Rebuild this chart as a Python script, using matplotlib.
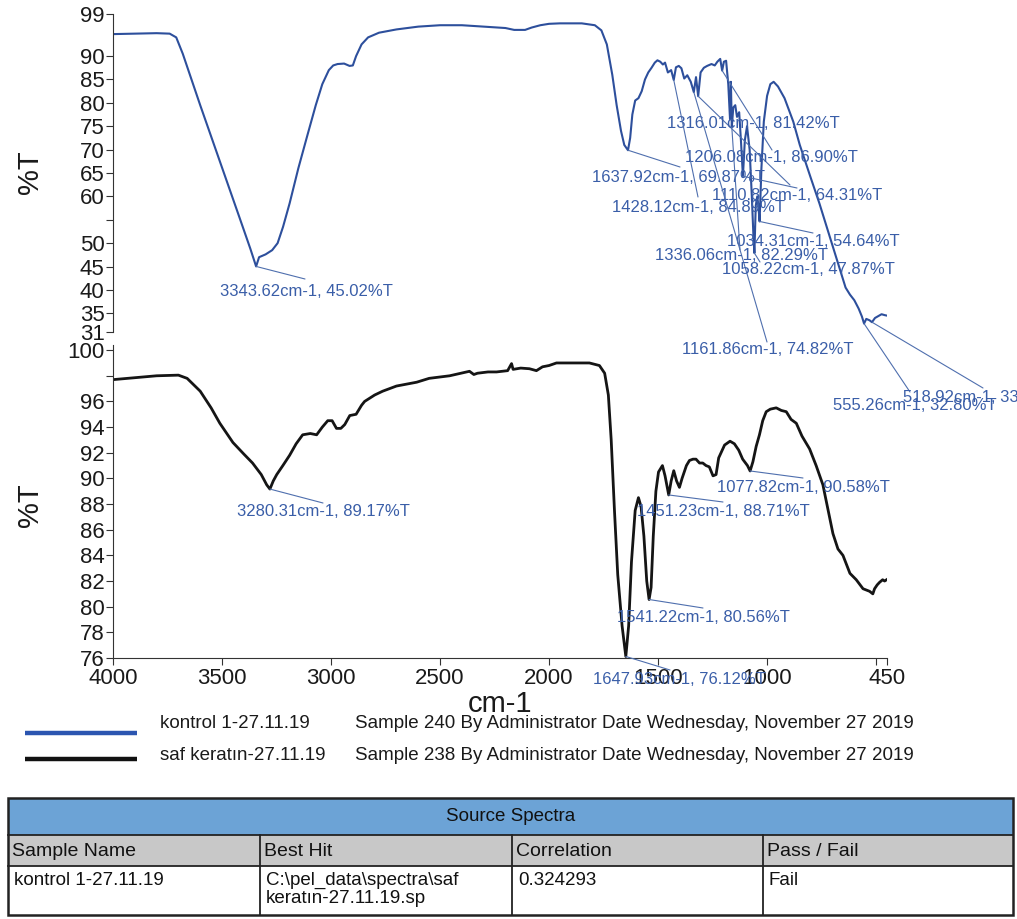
import matplotlib
matplotlib.use('Agg')
import matplotlib.pyplot as plt
from matplotlib import font_manager
from matplotlib.patches import Rectangle

# ---------------- data ----------------
top_wn = [4000, 3900, 3800, 3740, 3710, 3680, 3600, 3500, 3420, 3370, 3343.62, 3330, 3300, 3270,
          3245, 3220, 3190, 3150, 3110, 3070, 3040, 3010, 2990, 2970, 2940, 2915, 2900, 2885, 2860,
          2830, 2780, 2700, 2600, 2500, 2400, 2300, 2200, 2160, 2110, 2080, 2040, 2000, 1950, 1850,
          1790, 1760, 1735, 1710, 1690, 1670, 1655, 1637.92, 1628, 1618, 1605, 1590, 1575, 1560,
          1545, 1530, 1515, 1503, 1490, 1478, 1468, 1455, 1440, 1428.12, 1418, 1405, 1393, 1380,
          1366, 1350, 1336.06, 1326, 1316.01, 1305, 1290, 1275, 1255, 1240, 1228, 1215, 1206.08,
          1198, 1188, 1178, 1170, 1166, 1161.86, 1155, 1146, 1138, 1128, 1120, 1110.82, 1102, 1092,
          1080, 1070, 1063, 1058.22, 1052, 1045, 1040, 1034.31, 1026, 1015, 1000, 985, 970, 950,
          920, 880, 850, 800, 760, 720, 700, 660, 640, 620, 600, 580, 565, 555.26, 545, 530, 518.92,
          505, 490, 475, 460, 450]
top_T = [94.7, 94.8, 94.9, 94.8, 94.0, 90.5, 79.5, 66.2, 55.5, 48.8, 45.02, 47.0, 47.6, 48.5,
         50.0, 53.5, 58.5, 66.0, 72.8, 79.5, 84.0, 87.0, 88.0, 88.3, 88.4, 87.9, 88.0, 90.0, 92.5,
         94.0, 95.0, 95.7, 96.3, 96.6, 96.6, 96.3, 96.0, 95.6, 95.6, 96.1, 96.6, 96.9, 97.0, 97.0,
         96.6, 95.5, 92.5, 86.0, 79.5, 74.0, 71.0, 69.87, 72.5, 77.5, 80.5, 81.0, 82.5, 85.0,
         86.5, 87.5, 88.6, 89.1, 88.8, 88.2, 88.6, 86.5, 87.0, 84.89, 87.6, 87.9, 87.4, 85.2,
         85.9, 84.5, 82.29, 85.5, 81.42, 86.5, 87.5, 87.9, 88.3, 88.0, 88.8, 89.4, 86.90,
         88.8, 89.0, 84.0, 76.5, 84.5, 74.82, 79.0, 79.5, 77.0, 78.0, 72.0, 64.31, 72.0, 75.0,
         70.0, 60.0, 52.0, 47.87, 58.0, 60.0, 58.0, 54.64, 66.0, 76.0, 81.5, 84.0, 84.5, 83.5,
         81.0, 76.0, 71.0, 64.0, 58.5, 52.5, 49.5, 43.5, 40.5, 39.0, 37.8, 36.0, 34.3, 32.80, 33.8, 33.5, 33.1,
         34.0, 34.4, 34.8, 34.6, 34.5]

bot_wn = [4000, 3900, 3800, 3700, 3660, 3600, 3550, 3510, 3450, 3400, 3360, 3320, 3295, 3280.31,
          3265, 3249, 3221, 3190, 3160, 3130, 3095, 3066, 3040, 3015, 2995, 2975, 2955, 2937, 2914,
          2885, 2860, 2846, 2800, 2763, 2700, 2607, 2550, 2456, 2365, 2345, 2328, 2280, 2241, 2190,
          2172, 2165, 2130, 2090, 2058, 2030, 2000, 1966, 1900, 1815, 1769, 1745, 1728, 1715, 1700,
          1685, 1665, 1647.93, 1635, 1622, 1605, 1590, 1578, 1565, 1552, 1541.22, 1532, 1522, 1510,
          1498, 1480, 1468, 1451.23, 1440, 1428, 1415, 1402, 1390, 1370, 1356, 1340, 1326, 1310,
          1295, 1280, 1265, 1248, 1234, 1222, 1211, 1195, 1170, 1150, 1130, 1112, 1090, 1077.82,
          1065, 1050, 1035, 1020, 1004, 985, 958, 935, 912, 890, 866, 840, 805, 775, 744, 720, 698,
          675, 652, 620, 591, 560, 530, 515, 507, 495, 484, 470, 461, 452]
bot_T = [97.7, 97.85, 98.0, 98.05, 97.8, 96.8, 95.5, 94.3, 92.8, 91.9, 91.2, 90.3, 89.5, 89.17,
         89.8, 90.3, 91.0, 91.8, 92.7, 93.4, 93.5, 93.4, 94.0, 94.5, 94.5, 93.9, 93.9, 94.2, 94.9,
         95.0, 95.7, 96.0, 96.5, 96.8, 97.2, 97.5, 97.8, 98.0, 98.35, 98.1, 98.2, 98.3, 98.3, 98.4,
         98.95, 98.5, 98.6, 98.55, 98.4, 98.7, 98.8, 99.0, 99.0, 99.0, 98.8, 98.2, 96.5, 93.0, 87.5,
         82.5, 78.5, 76.12, 78.5, 83.5, 87.5, 88.5, 87.8, 85.5, 82.0, 80.56, 81.5, 85.5, 89.0,
         90.5, 91.0, 90.2, 88.71, 89.8, 90.6, 89.8, 89.3, 90.0, 91.0, 91.4, 91.5, 91.5, 91.2,
         91.2, 91.0, 90.9, 90.2, 90.3, 91.6, 92.0, 92.6, 92.9, 92.7, 92.2, 91.5, 91.0, 90.58,
         91.3, 92.5, 93.4, 94.5, 95.2, 95.4, 95.5, 95.3, 95.2, 94.6, 94.3, 93.3, 92.3, 91.0, 89.5,
         87.5, 85.7, 84.5, 84.0, 82.6, 82.1, 81.4, 81.2, 81.0, 81.4, 81.7, 81.9, 82.1, 82.0, 82.1]

top_peak_wn = [3343.62, 1637.92, 1316.01, 1206.08, 1110.82, 1428.12, 1034.31, 1336.06, 1058.22,
               1161.86, 555.26, 518.92]
top_peak_T = [45.02, 69.87, 81.42, 86.90, 64.31, 84.89, 54.64, 82.29, 47.87, 74.82, 32.80, 33.10]
bot_peak_wn = [3280.31, 1451.23, 1077.82, 1541.22, 1647.93]
bot_peak_T = [89.17, 88.71, 90.58, 80.56, 76.12]

top_yticks = [31, 35, 40, 45, 50, 55, 60, 65, 70, 75, 80, 85, 90, 99]
top_ylabels = ['31', '35', '40', '45', '50', '', '60', '65', '70', '75', '80', '85', '90', '99']
bot_yticks = [76, 78, 80, 82, 84, 86, 88, 90, 92, 94, 96, 98, 100]
bot_ylabels = ['76', '78', '80', '82', '84', '86', '88', '90', '92', '94', '96', '', '100']
xticks = [4000, 3500, 3000, 2500, 2000, 1500, 1000, 500, 450]
xlabels = ['4000', '3500', '3000', '2500', '2000', '1500', '1000', '', '450']

legend_names = ['kontrol 1-27.11.19', 'saf keratın-27.11.19']
legend_info = ['Sample 240 By Administrator Date Wednesday, November 27 2019',
               'Sample 238 By Administrator Date Wednesday, November 27 2019']

table_title = 'Source Spectra'
table_cols = ['Sample Name', 'Best Hit', 'Correlation', 'Pass / Fail']
table_row = ['kontrol 1-27.11.19', 'C:\\pel_data\\spectra\\saf\nkeratın-27.11.19.sp', '0.324293', 'Fail']

# ---------------- style ----------------
names = {f.name for f in font_manager.fontManager.ttflist}
NARROW = 'Liberation Sans Narrow' if 'Liberation Sans Narrow' in names else 'Liberation Sans'
plt.rcParams['font.family'] = ['Liberation Sans', 'DejaVu Sans']

BLUE = '#2d4f9c'
ANN = '#3a5ea8'
LEAD = '#4f6fae'
BLACK = '#151515'

W, H = 1017, 919
fig = plt.figure(figsize=(W / 100, H / 100), dpi=100)

ax1 = fig.add_axes([113 / W, 1 - 332 / H, 774 / W, 318 / H])
ax2 = fig.add_axes([113 / W, 1 - 658 / H, 774 / W, 313 / H])

ax1.plot(top_wn, top_T, color=BLUE, lw=1.5)
ax2.plot(bot_wn, bot_T, color=BLACK, lw=2.0)

for ax in (ax1, ax2):
    ax.set_xlim(4000, 450)
    ax.spines['top'].set_visible(False)
    ax.spines['right'].set_visible(False)
    ax.spines['left'].set_color('#333333')
    ax.spines['bottom'].set_color('#333333')
    ax.tick_params(axis='y', direction='out', length=5, labelsize=16, pad=1, colors='#333333',
                   labelcolor='#1a1a1a')
ax1.spines['bottom'].set_visible(False)
ax1.set_ylim(31, 99)
ax1.set_xticks([])
ax1.set_yticks(top_yticks)
ax1.set_yticklabels(top_ylabels)

ax2.set_ylim(76, 100.4)
ax2.set_yticks(bot_yticks)
ax2.set_yticklabels(bot_ylabels)
ax2.set_xticks(xticks)
ax2.set_xticklabels(xlabels)
ax2.tick_params(axis='x', direction='out', length=5, labelsize=16, pad=2, colors='#333333',
                labelcolor='#1a1a1a')

# overlay in reference pixel coordinates
ov = fig.add_axes([0, 0, 1, 1])
ov.set_xlim(0, W)
ov.set_ylim(H, 0)
ov.axis('off')

ov.text(30, 172, '%T', rotation=90, fontsize=21, ha='center', va='center', color='#1a1a1a')
ov.text(30, 505, '%T', rotation=90, fontsize=21, ha='center', va='center', color='#1a1a1a')
ov.text(500, 704, 'cm-1', fontsize=21, ha='center', va='center', color='#1a1a1a')

top_text_pos = [(220, 292), (592, 177), (667, 123), (685, 157), (712, 195), (612, 208),
                (727, 241), (655, 255), (722, 270), (682, 350), (833, 405), (903, 398)]
top_line_end = [(305, 279), (680, 167), (790, 185), (772, 150), (797, 188), (698, 197),
                (813, 233), (767, 342), (760, 262), (740, 250), (910, 392), (983, 388)]
bot_text_pos = [(237, 512), (637, 511), (717, 487), (617, 617), (593, 680)]
bot_line_end = [(323, 503), (723, 502), (803, 478), (703, 608), (670, 670)]


def annotate(ax, wns, ts, tpos, lend):
    for wn, t, (tx, ty), (ex, ey) in zip(wns, ts, tpos, lend):
        ov.annotate('', xy=(wn, t), xycoords=ax.transData, xytext=(ex, ey), textcoords='data',
                    arrowprops=dict(arrowstyle='-', color=LEAD, lw=0.8, shrinkA=0, shrinkB=0),
                    annotation_clip=False)
        ov.text(tx, ty, f'{wn:.2f}cm-1, {t:.2f}%T', fontsize=12, color=ANN,
                ha='left', va='center')


annotate(ax1, top_peak_wn, top_peak_T, top_text_pos, top_line_end)
annotate(ax2, bot_peak_wn, bot_peak_T, bot_text_pos, bot_line_end)

# legend
for (y_line, y_txt, col, nm, info) in [(733, 724, '#2b55b0', legend_names[0], legend_info[0]),
                                       (759, 756, '#111111', legend_names[1], legend_info[1])]:
    ov.plot([25, 137], [y_line, y_line], color=col, lw=3.2, solid_capstyle='butt')
    ov.text(160, y_txt, nm, fontsize=13.5, family=NARROW, ha='left', va='center', color='#1a1a1a')
    ov.text(355, y_txt, info, fontsize=13.5, family=NARROW, ha='left', va='center', color='#1a1a1a')

# table
L, R = 8, 1013
y0, y1, y2, y3 = 798, 835, 866, 915
colx = [8, 260, 512, 763, 1013]
ov.add_patch(Rectangle((L, y0), R - L, y1 - y0, facecolor='#6ca3d6', edgecolor='none'))
ov.add_patch(Rectangle((L, y1), R - L, y2 - y1, facecolor='#c8c8c8', edgecolor='none'))
ov.add_patch(Rectangle((L, y0), R - L, y3 - y0, facecolor='none', edgecolor='#222222', lw=1.8))
for yy in (y1, y2):
    ov.plot([L, R], [yy, yy], color='#222222', lw=1.3)
for xx in colx[1:-1]:
    ov.plot([xx, xx], [y1, y3], color='#222222', lw=1.3)
ov.text((L + R) / 2, (y0 + y1) / 2, table_title, fontsize=13.5, family=NARROW, ha='center',
        va='center', color='#111111')
for i, c in enumerate(table_cols):
    ov.text(colx[i] + 4, (y1 + y2) / 2 + 1, c, fontsize=14, family=NARROW, ha='left',
            va='center', color='#111111')
for i, c in enumerate(table_row):
    ov.text(colx[i] + 6, y2 + 6, c, fontsize=13.5, family=NARROW, ha='left', va='top',
            color='#111111', linespacing=1.1)

fig.savefig('out.png', dpi=100)
